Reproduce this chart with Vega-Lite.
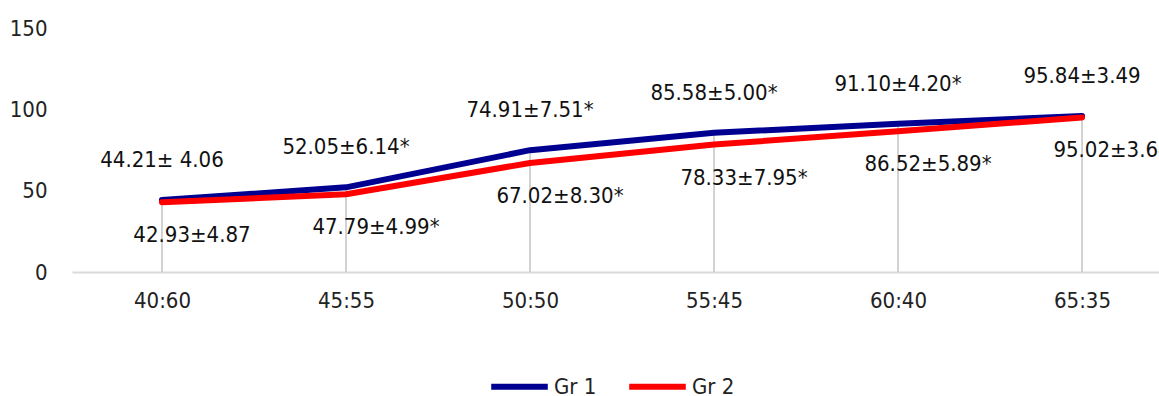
{
  "$schema": "https://vega.github.io/schema/vega-lite/v6.json",
  "width": 1087,
  "height": 244,
  "autosize": {"type": "none"},
  "padding": {"left": 72, "top": 28, "right": 0, "bottom": 124},
  "background": "white",
  "config": {
    "view": {"stroke": null},
    "font": "DejaVu Sans Condensed, Liberation Sans, sans-serif",
    "text": {"font": "DejaVu Sans Condensed, Liberation Sans, sans-serif"}
  },
  "data": {
    "values": [
      {"ratio": "40:60", "group": "Gr 1", "value": 44.21, "label": "44.21± 4.06"},
      {"ratio": "45:55", "group": "Gr 1", "value": 52.05, "label": "52.05±6.14*"},
      {"ratio": "50:50", "group": "Gr 1", "value": 74.91, "label": "74.91±7.51*"},
      {"ratio": "55:45", "group": "Gr 1", "value": 85.58, "label": "85.58±5.00*"},
      {"ratio": "60:40", "group": "Gr 1", "value": 91.10, "label": "91.10±4.20*"},
      {"ratio": "65:35", "group": "Gr 1", "value": 95.84, "label": "95.84±3.49"},
      {"ratio": "40:60", "group": "Gr 2", "value": 42.93, "label": "42.93±4.87"},
      {"ratio": "45:55", "group": "Gr 2", "value": 47.79, "label": "47.79±4.99*"},
      {"ratio": "50:50", "group": "Gr 2", "value": 67.02, "label": "67.02±8.30*"},
      {"ratio": "55:45", "group": "Gr 2", "value": 78.33, "label": "78.33±7.95*"},
      {"ratio": "60:40", "group": "Gr 2", "value": 86.52, "label": "86.52±5.89*"},
      {"ratio": "65:35", "group": "Gr 2", "value": 95.02, "label": "95.02±3.64"}
    ]
  },
  "encoding": {
    "x": {
      "field": "ratio",
      "type": "ordinal",
      "sort": null,
      "scale": {"type": "point", "range": [0, 1100], "padding": 0.489},
      "axis": {
        "title": null,
        "labelAngle": 0,
        "ticks": false,
        "grid": false,
        "domainColor": "#d9d9d9",
        "domainWidth": 2,
        "labelFontSize": 22,
        "labelColor": "#222222",
        "labelPadding": 18
      }
    },
    "y": {
      "field": "value",
      "type": "quantitative",
      "scale": {"domain": [0, 150], "nice": false},
      "axis": {
        "title": null,
        "values": [0, 50, 100, 150],
        "ticks": false,
        "domain": false,
        "grid": false,
        "labelFontSize": 22,
        "labelColor": "#222222",
        "labelPadding": 25
      }
    }
  },
  "layer": [
    {
      "transform": [{"filter": "datum.group === 'Gr 1'"}],
      "mark": {"type": "rule", "color": "#c4c4c4", "strokeWidth": 1.5},
      "encoding": {"y2": {"datum": 0}}
    },
    {
      "mark": {"type": "line", "strokeWidth": 6, "strokeCap": "round", "strokeJoin": "round"},
      "encoding": {
        "color": {
          "field": "group",
          "type": "nominal",
          "scale": {"domain": ["Gr 1", "Gr 2"], "range": ["#000090", "#ff0000"]},
          "legend": {
            "title": null,
            "orient": "none",
            "direction": "horizontal",
            "legendX": 416,
            "legendY": 327,
            "symbolType": "stroke",
            "symbolSize": 3200,
            "symbolStrokeWidth": 6,
            "labelFontSize": 22,
            "labelColor": "#222222",
            "labelOffset": 3,
            "columnPadding": 20
          }
        }
      }
    },
    {
      "transform": [{"filter": "datum.group === 'Gr 1'"}],
      "mark": {"type": "text", "dy": -40, "fontSize": 22, "color": "#111111"},
      "encoding": {"text": {"field": "label"}}
    },
    {
      "transform": [{"filter": "datum.group === 'Gr 2'"}],
      "mark": {"type": "text", "dx": 30, "dy": 33, "fontSize": 22, "color": "#111111"},
      "encoding": {"text": {"field": "label"}}
    }
  ]
}
